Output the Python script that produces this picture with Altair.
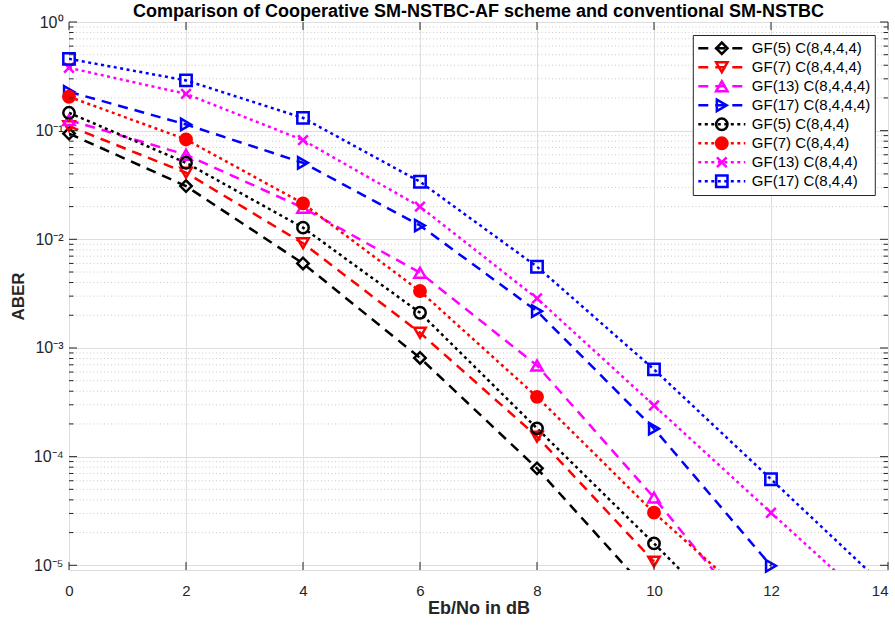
import altair as alt
import pandas as pd

# ---------------- data ----------------
ebno = [0, 2, 4, 6, 8, 10, 12, 14]
series_names = [
    "GF(5) C(8,4,4,4)", "GF(7) C(8,4,4,4)", "GF(13) C(8,4,4,4)", "GF(17) C(8,4,4,4)",
    "GF(5) C(8,4,4)", "GF(7) C(8,4,4)", "GF(13) C(8,4,4)", "GF(17) C(8,4,4)",
]
gf5_c8444 = [0.094, 0.0309, 0.0060, 8.1e-4, 7.8e-5, 5.0e-6, None, None]
gf7_c8444 = [0.11, 0.041, 0.0092, 1.38e-3, 1.53e-4, 1.08e-5, None, None]
gf13_c8444 = [0.125, 0.060, 0.0195, 4.93e-3, 6.9e-4, 4.2e-5, 2.0e-6, None]
gf17_c8444 = [0.228, 0.114, 0.0506, 0.0134, 2.18e-3, 1.81e-4, 9.9e-6, None]
gf5_c844 = [0.146, 0.0506, 0.0128, 2.11e-3, 1.82e-4, 1.59e-5, 1.3e-6, None]
gf7_c844 = [0.205, 0.083, 0.0214, 3.34e-3, 3.55e-4, 3.05e-5, 3.3e-6, None]
gf13_c844 = [0.379, 0.218, 0.0818, 0.020, 2.86e-3, 2.96e-4, 3.05e-5, 3.2e-6]
gf17_c844 = [0.458, 0.29, 0.131, 0.0339, 5.6e-3, 6.35e-4, 6.2e-5, 6.0e-6]
all_series = [gf5_c8444, gf7_c8444, gf13_c8444, gf17_c8444,
              gf5_c844, gf7_c844, gf13_c844, gf17_c844]

x_ticks = [0, 2, 4, 6, 8, 10, 12, 14]
y_decades = [1e-5, 1e-4, 1e-3, 1e-2, 1e-1, 1.0]
y_minor = [m * d for d in [1e-5, 1e-4, 1e-3, 1e-2, 1e-1] for m in range(2, 10)]

# ---------------- styles ----------------
colors = ["#000000", "#ff0000", "#ff00ff", "#0000ff"] * 2
dashes = [[10, 7]] * 4 + [[3, 3.5]] * 4
xmark = "M-0.85,-0.85L0.85,0.85M-0.85,0.85L0.85,-0.85"
shapes = ["diamond", "triangle-down", "triangle-up", "triangle-right",
          "circle", "circle", xmark, "square"]
fills = ["transparent"] * 5 + ["#ff0000", "transparent", "transparent"]

W, H = 819, 548
FONT = "Liberation Sans"
AX = "#262626"

rows = []
for name, vals in zip(series_names, all_series):
    for x, v in zip(ebno, vals):
        if v is not None:
            rows.append({"EbNo": x, "ABER": v, "series": name, "series_m": name})
df = pd.DataFrame(rows)

y_label_expr = (
    "datum.value > 0.5 ? '10\u2070' : datum.value > 0.05 ? '10\u207b\u00b9' : "
    "datum.value > 0.005 ? '10\u207b\u00b2' : datum.value > 0.0005 ? '10\u207b\u00b3' : "
    "datum.value > 0.00005 ? '10\u207b\u2074' : '10\u207b\u2075'"
)

x_axis = alt.Axis(values=x_ticks, title="Eb/No in dB", grid=True, gridColor="#dedede",
                  gridWidth=1, domain=False, ticks=False, labelFont=FONT, labelFontSize=15,
                  labelColor=AX, labelPadding=13, titleFont=FONT, titleFontSize=18,
                  titleFontWeight="bold", titleColor=AX, titlePadding=1, labelFlush=False,
                  labelAlign=alt.ExprRef("datum.value >= 14 ? 'right' : 'center'"))
y_axis = alt.Axis(values=y_decades, title="ABER", grid=True, gridColor="#dedede",
                  gridWidth=1, domain=False, ticks=False, labelExpr=y_label_expr,
                  labelFont=FONT, labelFontSize=16, labelColor=AX, labelPadding=6,
                  titleFont=FONT, titleFontSize=17, titleFontWeight="bold", titleColor=AX,
                  titlePadding=6, labelFlush=False)

xs = alt.X("EbNo:Q", scale=alt.Scale(domain=[0, 14], nice=False, zero=False), axis=x_axis)
ys = alt.Y("ABER:Q", scale=alt.Scale(type="log", domain=[9.05e-6, 1.0], nice=False),
           axis=y_axis)

# minor dotted grid
minor_df = pd.DataFrame({"ABER": y_minor})
minor_grid = alt.Chart(minor_df).mark_rule(color="#cccccc", strokeWidth=1,
                                           strokeDash=[1, 2.5]).encode(
    y=ys, x=alt.value(0), x2=alt.value(W))

line_legend = alt.Legend(title=None, orient="none", legendX=623.8, legendY=13,
                         symbolType="stroke", symbolSize=2209, symbolStrokeWidth=2.5,
                         clipHeight=18.6, rowPadding=0, padding=4, strokeColor=AX,
                         fillColor="white", labelFont=FONT, labelFontSize=15,
                         labelColor="black", labelOffset=5, zindex=1, cornerRadius=0)
marker_legend = alt.Legend(title=None, orient="none", legendX=623.8, legendY=13,
                           symbolSize=130, symbolStrokeWidth=2.5, clipHeight=18.6,
                           rowPadding=0, padding=4, strokeColor="transparent",
                           fillColor="transparent", labelFont=FONT, labelFontSize=15,
                           labelExpr="''", symbolOffset=17.5, zindex=2, cornerRadius=0)

lines = alt.Chart(df).mark_line(strokeWidth=2.5, clip=True, strokeCap="butt").encode(
    x=xs, y=ys,
    color=alt.Color("series:N", scale=alt.Scale(domain=series_names, range=colors),
                    legend=line_legend),
    strokeDash=alt.StrokeDash("series:N", scale=alt.Scale(domain=series_names, range=dashes),
                              legend=line_legend),
    detail="series:N",
)

points = alt.Chart(df).transform_filter("datum.ABER >= 9.05e-6").mark_point(
    filled=False, size=130, strokeWidth=2.5, opacity=1).encode(
    x=xs, y=ys,
    color=alt.Color("series_m:N", scale=alt.Scale(domain=series_names, range=colors),
                    legend=marker_legend),
    shape=alt.Shape("series_m:N", scale=alt.Scale(domain=series_names, range=shapes),
                    legend=marker_legend),
    fill=alt.Fill("series_m:N", scale=alt.Scale(domain=series_names, range=fills),
                  legend=marker_legend),
)

# inward ticks (MATLAB style)
xt_df = pd.DataFrame({"EbNo": x_ticks})
yt_df = pd.DataFrame({"ABER": y_decades})
tick_style = dict(color=AX, strokeWidth=1)
xt_bottom = alt.Chart(xt_df).mark_rule(**tick_style).encode(
    x=xs, y=alt.value(H), y2=alt.value(H - 8))
xt_top = alt.Chart(xt_df).mark_rule(**tick_style).encode(
    x=xs, y=alt.value(0), y2=alt.value(8))
yt_left = alt.Chart(yt_df).mark_rule(**tick_style).encode(
    y=ys, x=alt.value(0), x2=alt.value(8))
yt_right = alt.Chart(yt_df).mark_rule(**tick_style).encode(
    y=ys, x=alt.value(W), x2=alt.value(W - 8))
ym_left = alt.Chart(minor_df).mark_rule(**tick_style).encode(
    y=ys, x=alt.value(0), x2=alt.value(4.5))
ym_right = alt.Chart(minor_df).mark_rule(**tick_style).encode(
    y=ys, x=alt.value(W), x2=alt.value(W - 4.5))

chart = alt.layer(
    minor_grid, lines, points, xt_bottom, xt_top, yt_left, yt_right, ym_left, ym_right
).resolve_scale(
    color="independent", shape="independent", fill="independent", strokeDash="independent"
).properties(
    width=W, height=H,
    padding={"left": 69, "top": 22, "right": 7, "bottom": 56},
    autosize=alt.AutoSizeParams(type="none"),
    title=alt.TitleParams(
        "Comparison of Cooperative SM-NSTBC-AF scheme and conventional SM-NSTBC",
        font=FONT, fontSize=18, fontWeight="bold", color="black", anchor="middle",
        offset=4, dy=11),
).configure_view(stroke=AX, strokeWidth=1).configure(background="white")

chart.save("out.html", embed_options={"renderer": "svg", "actions": False})
